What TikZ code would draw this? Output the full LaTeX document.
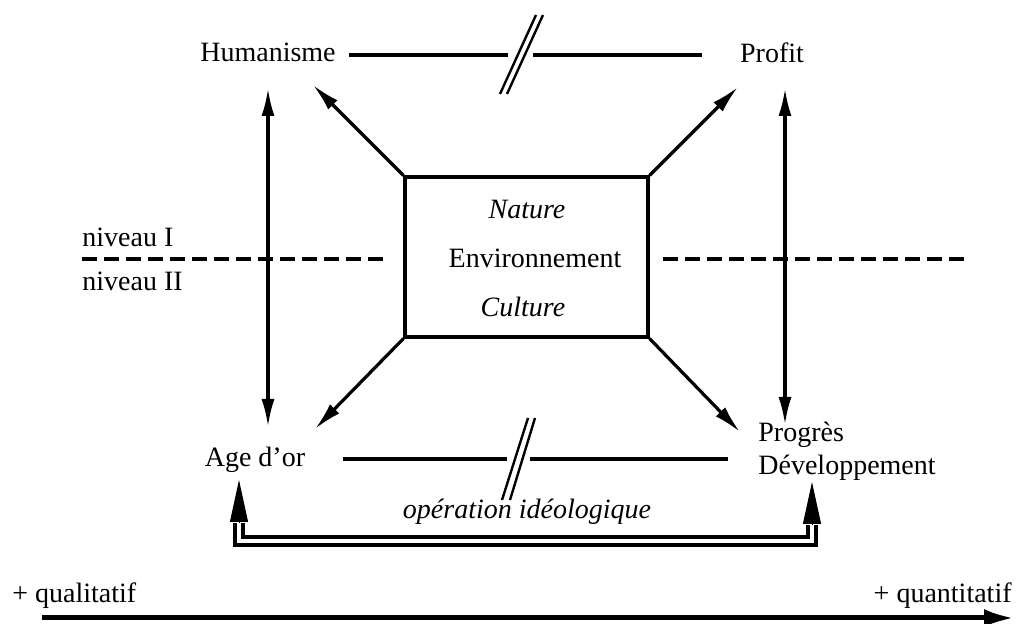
\documentclass[tikz,border=0pt]{standalone}
\usepackage{fontspec}
\setmainfont{Liberation Serif}
\usetikzlibrary{arrows.meta}
\begin{document}
\begin{tikzpicture}[x=0.5pt,y=-0.5pt,
  lbl/.style={inner sep=0pt, font=\fontsize{14}{16.5}\selectfont},
  ln/.style={line width=1.6pt},
  slash/.style={line width=1.2pt},
  arr/.style={ln, -{Latex[length=14pt,width=6.5pt]}},
  darr/.style={ln, {Latex[length=14pt,width=6.5pt]}-{Latex[length=14pt,width=6.5pt]}},
  dsh/.style={ln, dash pattern=on 7.5pt off 3.5pt},
  dbl/.style={double, double distance=2.4pt, line width=1.6pt, line join=miter},
  bighead/.style={line width=0.5pt, -{Triangle[length=21pt,width=9pt]}},
  axis/.style={line width=2.5pt, -{Latex[length=15pt,width=9pt]}}
  ]
\useasboundingbox (0,0) rectangle (1024,624);

% text nodes
\node[lbl] (hum) at (268,52) {Humanisme};
\node[lbl] (pro) at (772,53) {Profit};
\node[lbl] (age) at (255,460) {Age d’or};
\node[lbl, align=left, anchor=west] (prog) at (758,451) {Progrès\\Développement};
\node[lbl, anchor=west] (n1) at (82,237) {niveau I};
\node[lbl, anchor=west] (n2) at (82,281) {niveau II};
\node[lbl] (op) at (527,512) {\itshape opération idéologique};
\node[lbl, anchor=west] (qual) at (12,596) {+ qualitatif};
\node[lbl, anchor=east] (quan) at (1012,596) {+ quantitatif};

% central box
\node[draw, ln, minimum width=121.5pt, minimum height=80pt, inner sep=0pt] (box) at (526.5,257) {};
\node[lbl] (nat) at (527,210) {\itshape Nature};
\node[lbl] (env) at (535,258) {Environnement};
\node[lbl] (cul) at (523,307) {\itshape Culture};

% top line with break
\coordinate (t1) at (349,55); \coordinate (t2) at (508,55);
\coordinate (t3) at (533,55); \coordinate (t4) at (702,55);
\draw[ln] (t1) -- (t2);
\draw[ln] (t3) -- (t4);
\coordinate (ts1a) at (500,94); \coordinate (ts1b) at (536,15);
\coordinate (ts2a) at (507,94); \coordinate (ts2b) at (543,15);
\draw[slash] (ts1a) -- (ts1b);
\draw[slash] (ts2a) -- (ts2b);

% bottom line with break
\coordinate (b1) at (343,459); \coordinate (b2) at (507,459);
\coordinate (b3) at (530,459); \coordinate (b4) at (728,459);
\draw[ln] (b1) -- (b2);
\draw[ln] (b3) -- (b4);
\coordinate (bs1a) at (502,500); \coordinate (bs1b) at (528,418);
\coordinate (bs2a) at (510,500); \coordinate (bs2b) at (535,418);
\draw[slash] (bs1a) -- (bs1b);
\draw[slash] (bs2a) -- (bs2b);

% dashed level line
\coordinate (d1) at (82,259); \coordinate (d2) at (385,259);
\coordinate (d3) at (663,259); \coordinate (d4) at (968,259);
\draw[dsh] (d1) -- (d2);
\draw[dsh] (d3) -- (d4);

% diagonal arrows
\coordinate (hl) at (313,85);
\coordinate (hr) at (738,87);
\coordinate (ll) at (315,429);
\coordinate (lr) at (740,432);
\draw[arr] (box.north west) -- (hl);
\draw[arr] (box.north east) -- (hr);
\draw[arr] (box.south west) -- (ll);
\draw[arr] (box.south east) -- (lr);

% vertical double arrows
\coordinate (vl1) at (268,88); \coordinate (vl2) at (268,427);
\coordinate (vr1) at (785,88); \coordinate (vr2) at (785,425);
\draw[darr] (vl1) -- (vl2);
\draw[darr] (vr1) -- (vr2);

% ideological operation double arrow
\coordinate (ltip) at (239,480); \coordinate (lbase) at (239,523);
\coordinate (rtip) at (812,482); \coordinate (rbase) at (812,525);
\draw[dbl] (lbase) -- (239,541) -- (812,541) -- (rbase);
\draw[bighead] (lbase) -- (ltip);
\draw[bighead] (rbase) -- (rtip);

% axis
\coordinate (ax1) at (42,618); \coordinate (ax2) at (1014,618);
\draw[axis] (ax1) -- (ax2);
\end{tikzpicture}
\end{document}
